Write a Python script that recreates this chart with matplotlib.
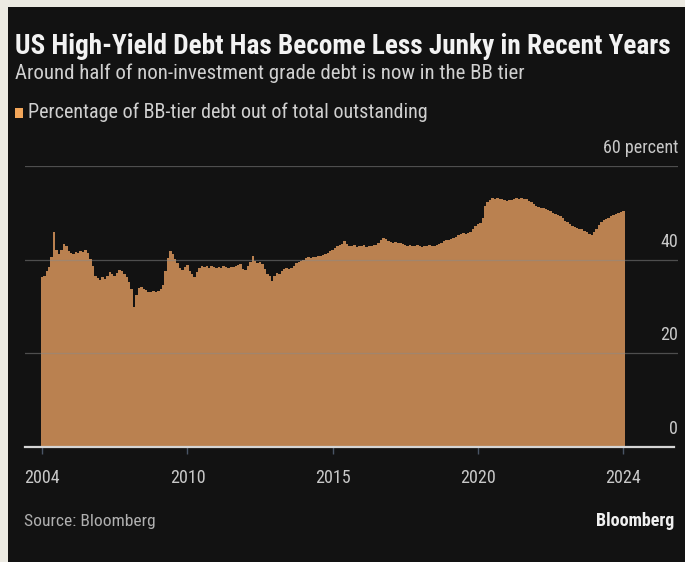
import matplotlib
matplotlib.use("Agg")
import matplotlib.pyplot as plt
import matplotlib.font_manager as fm
import matplotlib.dates as mdates
from matplotlib.patches import Rectangle
import matplotlib.transforms as mtransforms
import pandas as pd

# ---------------- data ----------------
start_month = "2004-12-31"
bb_share = [
    36.4, 36.6, 37.5, 38.5, 40.5, 46.0, 42.0, 41.3, 42.0, 43.3,
    43.0, 41.8, 41.5, 41.2, 41.7, 41.5, 41.8, 41.6, 42.1, 41.4,
    40.2, 38.6, 36.6, 36.0, 35.6, 36.2, 35.9, 36.5, 37.3, 37.0,
    36.6, 37.2, 37.9, 37.6, 36.9, 36.2, 35.2, 33.8, 30.0, 32.5,
    33.9, 34.1, 33.8, 33.6, 33.2, 33.0, 33.3, 33.1, 33.4, 33.8,
    34.5, 37.6, 40.3, 41.8, 41.2, 40.1, 39.2, 38.3, 37.9, 38.4,
    38.8, 37.6, 37.0, 36.2, 37.4, 38.3, 38.7, 38.5, 38.6, 38.3,
    38.6, 38.4, 38.2, 38.5, 38.3, 38.6, 38.4, 38.2, 38.5, 38.4,
    38.7, 38.9, 39.0, 38.1, 37.9, 38.6, 39.6, 40.7, 39.8, 39.3,
    39.4, 39.1, 38.0, 36.9, 36.6, 35.4, 36.6, 37.1, 37.0, 37.5,
    38.0, 38.2, 38.0, 38.3, 38.6, 39.2, 39.6, 39.7, 39.9, 40.3,
    40.5, 40.4, 40.6, 40.5, 40.7, 40.8, 41.1, 41.3, 41.4, 41.8,
    42.1, 42.4, 42.9, 43.2, 43.4, 43.9, 43.3, 43.0, 42.9, 43.1,
    42.8, 43.0, 42.9, 43.1, 42.8, 43.0, 42.9, 43.1, 43.2, 43.6,
    44.3, 44.6, 44.4, 44.0, 43.8, 43.6, 43.7, 43.5, 43.6, 43.3,
    43.1, 43.0, 43.2, 43.0, 42.9, 43.1, 43.0, 42.8, 43.0, 42.9,
    43.1, 43.0, 42.9, 43.2, 43.3, 43.6, 44.0, 44.2, 44.1, 44.4,
    44.6, 44.9, 45.2, 45.4, 45.6, 45.5, 45.8, 46.0, 46.6, 47.2,
    47.6, 47.9, 49.0, 51.5, 52.3, 52.8, 53.2, 53.0, 53.1, 52.9,
    53.0, 52.8, 52.6, 52.8, 52.7, 52.9, 53.1, 53.0, 53.2, 53.0,
    52.9, 52.6, 52.3, 51.9, 51.4, 51.2, 51.0, 51.1, 50.9, 50.7,
    50.3, 50.0, 49.8, 49.6, 49.3, 48.8, 48.3, 48.0, 47.6, 47.2,
    46.9, 46.8, 46.5, 46.6, 46.2, 45.9, 45.5, 45.2, 46.0, 46.6,
    47.4, 48.1, 48.4, 48.7, 49.0, 49.3, 49.5, 49.7, 49.9, 50.1,
    50.3,
]
dates = pd.date_range(start_month, periods=len(bb_share), freq="ME")

x_tick_dates = ["2004-12-31", "2010-01-01", "2015-01-01", "2020-01-01", "2024-12-31"]
x_tick_labels = ["2004", "2010", "2015", "2020", "2024"]
y_ticks = [0, 20, 40, 60]
y_tick_labels = ["0", "20", "40", "60 percent"]

title = "US High-Yield Debt Has Become Less Junky in Recent Years"
subtitle = "Around half of non-investment grade debt is now in the BB tier"
legend_label = "Percentage of BB-tier debt out of total outstanding"
source = "Source: Bloomberg"
brand = "Bloomberg"

# ---------------- style ----------------
W, H = 685, 562
BORDER = "#ECEAE2"
PANEL = "#121212"
BAR = "#BA8150"
LEG = "#F2A65A"

names = {f.name for f in fm.fontManager.ttflist}
cond = None
for cand in ["Roboto Condensed", "Liberation Sans Narrow", "Open Sans Condensed",
             "Noto Sans Condensed", "DejaVu Sans Condensed"]:
    if cand in names:
        cond = cand
        break
stretch = "normal"
if cond is None:
    dv_cond = any(f.name == "DejaVu Sans" and str(f.stretch) in ("condensed", "semi-condensed", "75", "87")
                  for f in fm.fontManager.ttflist)
    cond = "DejaVu Sans"
    if dv_cond:
        stretch = "condensed"
FONT = [cond, "DejaVu Sans"]

fig = plt.figure(figsize=(W / 100, H / 100), dpi=100)
fig.patch.set_facecolor(BORDER)
fig.patches.append(Rectangle((8 / W, 0), 1, 1 - 7 / H, transform=fig.transFigure,
                             facecolor=PANEL, edgecolor="none", zorder=-10))

def px(x, y):
    return x / W, 1 - y / H

# axes geometry: x pixels 25..678, y: 0 -> 447, 60 -> 166
ax_left, ax_right = 25, 678
ax_bottom, ax_top = 447, 166
ax = fig.add_axes([ax_left / W, 1 - ax_bottom / H, (ax_right - ax_left) / W, (ax_bottom - ax_top) / H])
ax.set_facecolor("none")
ax.set_zorder(5)
for s in ax.spines.values():
    s.set_visible(False)

ax.bar(dates, bb_share, width=31, color=BAR, linewidth=0, align="center", zorder=2)

# x scale: 2010-01-01 at px 187.5, 29.06 px per year
px_per_day = 29.06 / 365.25
x0 = mdates.date2num(pd.Timestamp("2010-01-01"))
ax.set_xlim(x0 - (187.5 - ax_left) / px_per_day, x0 + (ax_right - 187.5) / px_per_day)
ax.set_ylim(0, 60)

ax.set_xticks([mdates.date2num(pd.Timestamp(d)) for d in x_tick_dates])
ax.set_xticklabels(x_tick_labels)
ax.tick_params(axis="x", length=5, width=1, color="#4A5566", pad=11, labelsize=13,
               labelcolor="#C8C8C8")
for lab in ax.get_xticklabels():
    lab.set_fontfamily(FONT)
    lab.set_fontstretch(stretch)
ax.set_yticks([])

for v in y_ticks[1:]:
    ax.axhline(v, color="#8A8A8A", lw=0.9, alpha=0.5, zorder=3)
ytrans = mtransforms.blended_transform_factory(ax.transAxes, ax.transData)
ax.plot([0, 0.9939], [0, 0], transform=ytrans,
        color="#D5D5D5", lw=1.6, zorder=4, clip_on=False)

offset = mtransforms.ScaledTranslation(0, 9 / 100, fig.dpi_scale_trans)
for v, lab in zip(y_ticks, y_tick_labels):
    ax.text(1.0, v, lab, transform=ytrans + offset, ha="right", va="bottom",
            color="#C8C8C8", fontsize=13, family=FONT, fontstretch=stretch)

# ---------------- header text ----------------
renderer = fig.canvas.get_renderer()

def fit_text(x, y, s, target_w, size, **kw):
    t = fig.text(*px(x, y), s, fontsize=size, family=FONT, fontstretch=stretch, **kw)
    w = t.get_window_extent(renderer).width
    t.set_fontsize(size * target_w / w)
    return t

fit_text(15, 54, title, 657, 16, fontweight="bold", color="#F2F2F2", va="baseline")
fit_text(15, 79, subtitle, 510, 12, color="#D0D0D0", va="baseline")
fig.patches.append(Rectangle(px(15, 118), 8 / W, 10 / H, transform=fig.transFigure,
                             facecolor=LEG, edgecolor="none", zorder=1))
fit_text(28, 118, legend_label, 400, 12, color="#D0D0D0", va="baseline")

fit_text(24, 526, source, 131, 12, color="#B0B0B0", va="baseline")
t = fit_text(596, 526, brand, 79, 12, fontweight="bold", color="#F0F0F0", va="baseline")

fig.savefig("out.png", dpi=100, facecolor=fig.get_facecolor())
